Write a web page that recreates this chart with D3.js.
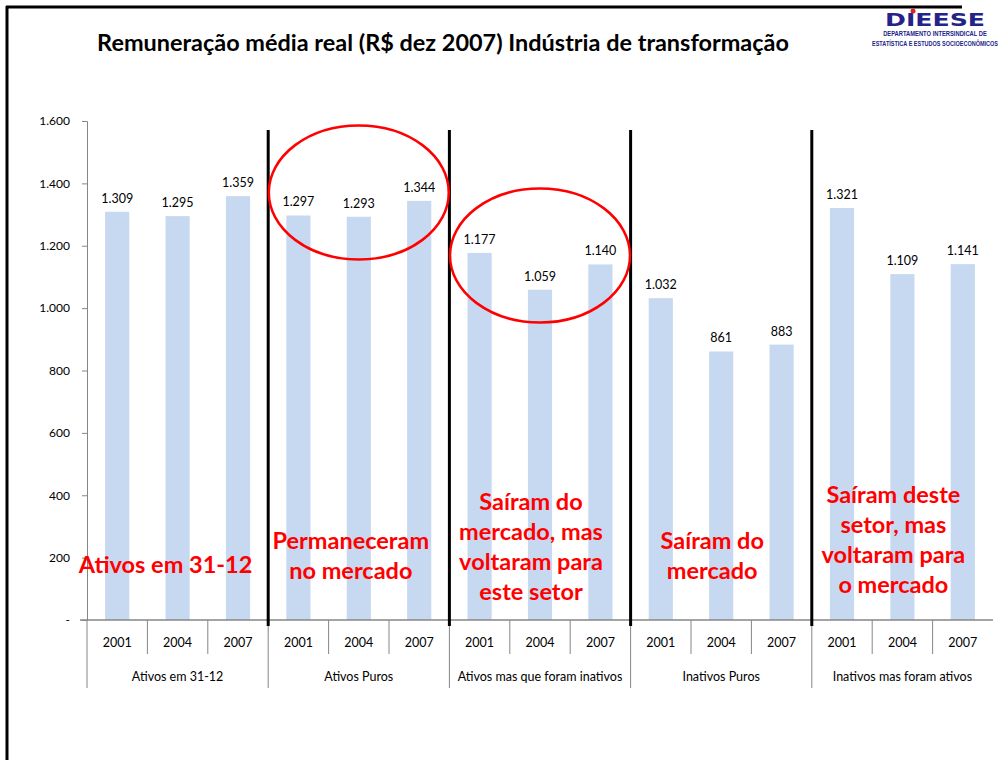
<!DOCTYPE html>
<html>
<head>
<meta charset="utf-8">
<script src="https://cdn.jsdelivr.net/npm/d3@7"></script>
<style>
  body { margin: 0; background: #fff; }
  svg { display: block; font-family: Lato, "Open Sans", sans-serif; }
</style>
</head>
<body>
<div id="chart"></div>
<script>
// data
const groups = ["Ativos em 31-12", "Ativos Puros", "Ativos mas que foram inativos", "Inativos Puros", "Inativos mas foram ativos"];
const years = ["2001", "2004", "2007"];
const ativos3112 = [1309, 1295, 1359];
const ativosPuros = [1297, 1293, 1344];
const ativosInativos = [1177, 1059, 1140];
const inativosPuros = [1032, 861, 883];
const inativosAtivos = [1321, 1109, 1141];
const yTicks = [0, 200, 400, 600, 800, 1000, 1200, 1400, 1600];
const notes = [
  ["Ativos em 31-12"],
  ["Permaneceram", "no mercado"],
  ["Saíram do", "mercado, mas", "voltaram para", "este setor"],
  ["Saíram do", "mercado"],
  ["Saíram deste", "setor, mas", "voltaram para", "o mercado"]
];

const series = [ativos3112, ativosPuros, ativosInativos, inativosPuros, inativosAtivos];
const rows = [];
groups.forEach((g, gi) => {
  years.forEach((y, yi) => rows.push({ group: g, year: y, value: series[gi][yi] }));
});

const width = 1005, height = 760;
const fmt = v => v === 0 ? "-" : d3.format(",")(v).replace(/,/g, ".");

const svg = d3.select("#chart").append("svg")
  .attr("width", width)
  .attr("height", height);

// slide frame
svg.append("line").attr("x1", 7).attr("x2", 7).attr("y1", 6).attr("y2", height)
  .attr("stroke", "#000").attr("stroke-width", 3);
svg.append("line").attr("x1", 6).attr("x2", 962).attr("y1", 7).attr("y2", 7)
  .attr("stroke", "#000").attr("stroke-width", 3);

// fit a text to a given width by scaling it horizontally around its centre
function fitText(parent, cx, cy, w, txt, style) {
  const g = parent.append("g").attr("transform", `translate(${cx},${cy})`);
  const t = g.append("text").attr("text-anchor", "middle").text(txt);
  Object.entries(style).forEach(([k, v]) => t.style(k, v));
  const len = t.node().getComputedTextLength();
  g.attr("transform", `translate(${cx},${cy}) scale(${w / len},1)`);
  return t;
}

// logo
const logo = svg.append("g").attr("fill", "#23238a");
fitText(logo, 935, 26, 100, "DIEESE",
  { "font-family": "'DejaVu Sans', sans-serif", "font-weight": "900", "font-size": "18px" });
logo.append("circle").attr("cx", 913).attr("cy", 11).attr("r", 2.5).attr("fill", "#e02020");
fitText(logo, 935, 36, 104, "DEPARTAMENTO INTERSINDICAL DE",
  { "font-family": "'Liberation Sans', sans-serif", "font-weight": "bold", "font-size": "7.5px" });
fitText(logo, 935, 46, 126, "ESTATÍSTICA E ESTUDOS SOCIOECONÔMICOS",
  { "font-family": "'Liberation Sans', sans-serif", "font-weight": "bold", "font-size": "7.5px" });

// title
fitText(svg, 443, 51, 692, "Remuneração média real (R$ dez 2007) Indústria de transformação",
  { "font-size": "23px", "font-weight": "bold", "fill": "#000" });

// scales
const x0 = d3.scaleBand().domain(groups).range([87, 993]);
const x1 = d3.scaleBand().domain(years).range([0, x0.bandwidth()]).paddingInner(0.6).paddingOuter(0.3);
const y = d3.scaleLinear().domain([0, 1600]).range([620, 121]);

// y axis
const yAxis = svg.append("g")
  .attr("transform", "translate(87,0)")
  .call(d3.axisLeft(y).tickValues(yTicks).tickFormat(fmt).tickSize(5).tickPadding(12));
yAxis.select(".domain").attr("stroke", "#868686");
yAxis.selectAll(".tick line").attr("stroke", "#868686");
yAxis.selectAll(".tick text").style("font-size", "12px").style("fill", "#000").style("font-family", "Lato, sans-serif");

// bars
const barG = svg.append("g");
barG.selectAll("rect")
  .data(rows)
  .join("rect")
  .attr("x", d => x0(d.group) + x1(d.year))
  .attr("width", x1.bandwidth())
  .attr("y", d => y(d.value))
  .attr("height", d => y(0) - y(d.value))
  .attr("fill", "#c6d9f1");

barG.selectAll("text")
  .data(rows)
  .join("text")
  .attr("x", d => x0(d.group) + x1(d.year) + x1.bandwidth() / 2)
  .attr("y", d => y(d.value) - 9)
  .attr("text-anchor", "middle")
  .style("font-size", "12.5px").style("fill", "#000")
  .text(d => fmt(d.value));

// category axis (two levels)
const cat = svg.append("g").attr("stroke", "#868686");
cat.append("line").attr("x1", 80).attr("x2", 993).attr("y1", y(0)).attr("y2", y(0)).attr("stroke-width", 1.5);
groups.forEach((g, gi) => {
  const gx = x0(g);
  cat.append("line").attr("x1", gx).attr("x2", gx).attr("y1", y(0)).attr("y2", 688);
  years.slice(1).forEach(yr => {
    const tx = gx + x1.step() * years.indexOf(yr) + (x0.bandwidth() - x1.step() * years.length) / 2;
    cat.append("line").attr("x1", tx).attr("x2", tx).attr("y1", y(0)).attr("y2", 654);
  });
});

const catText = svg.append("g").attr("text-anchor", "middle").style("font-size", "12.5px").style("fill", "#000");
catText.selectAll("text.yr")
  .data(rows)
  .join("text")
  .attr("class", "yr")
  .attr("x", d => x0(d.group) + x1(d.year) + x1.bandwidth() / 2)
  .attr("y", 647)
  .text(d => d.year);
catText.selectAll("text.grp")
  .data(groups)
  .join("text")
  .attr("class", "grp")
  .attr("x", d => x0(d) + x0.bandwidth() / 2)
  .attr("y", 681)
  .text(d => d);

// thick black dividers between groups
svg.append("g").selectAll("line")
  .data(groups.slice(1))
  .join("line")
  .attr("x1", d => x0(d)).attr("x2", d => x0(d))
  .attr("y1", 130).attr("y2", 626)
  .attr("stroke", "#000").attr("stroke-width", 3);

// red ellipses around groups 2 and 3
const circled = [
  { group: groups[1], cy: 192.5 },
  { group: groups[2], cy: 255.5 }
];
svg.append("g").selectAll("ellipse")
  .data(circled)
  .join("ellipse")
  .attr("cx", d => x0(d.group) + x0.bandwidth() / 2)
  .attr("cy", d => d.cy)
  .attr("rx", 90)
  .attr("ry", 67)
  .attr("fill", "none")
  .attr("stroke", "#ff0000")
  .attr("stroke-width", 2.5);

// red annotations
const noteMid = [565, 556, 547, 556, 540];
const noteShift = [-12, -8, -9, -9, -9];
const noteG = svg.append("g")
  .attr("text-anchor", "middle")
  .style("font-size", "23.5px").style("font-weight", "bold").style("fill", "#ff0000");
notes.forEach((lines, i) => {
  const cx = x0(groups[i]) + x0.bandwidth() / 2 + noteShift[i];
  const top = noteMid[i] - (lines.length - 1) * 30.3 / 2;
  lines.forEach((t, li) => {
    noteG.append("text")
      .attr("x", cx)
      .attr("y", top + li * 30.3 + 8)
      .text(t);
  });
});
</script>
</body>
</html>
